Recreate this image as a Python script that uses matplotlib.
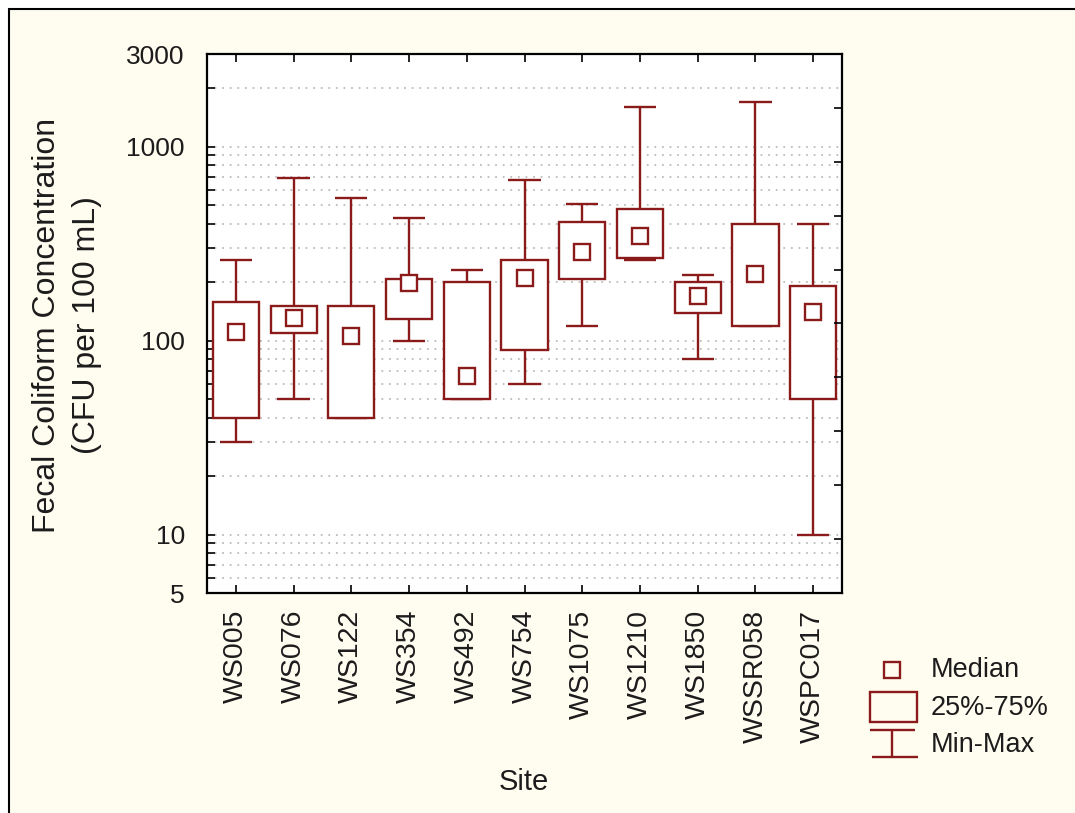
import matplotlib
matplotlib.use("Agg")
from matplotlib import pyplot as plt
from matplotlib.patches import Rectangle
from matplotlib.ticker import FixedLocator, NullFormatter
import numpy as np

# fecal coliform summary per sampling site (CFU per 100 mL)
sites = ['WS005', 'WS076', 'WS122', 'WS354', 'WS492', 'WS754',
         'WS1075', 'WS1210', 'WS1850', 'WSSR058', 'WSPC017']
mins = [30, 50, 40, 99, 50, 60, 119, 261, 80, 119, 10]
q1 = [40, 110, 40, 129, 50, 89, 207, 265, 139, 119, 50]
medians = [111, 131, 106, 197, 66, 209, 286, 345, 170, 220, 141]
q3 = [158, 151, 150, 207, 200, 261, 407, 477, 200, 398, 190]
maxs = [261, 691, 545, 430, 230, 670, 506, 1594, 217, 1690, 400]

y_ticks = [5, 6, 7, 8, 9, 10, 20, 30, 40, 50, 60, 70, 80, 90, 100,
           200, 300, 400, 500, 600, 700, 800, 900, 1000, 2000, 3000]
y_labeled = [5, 10, 100, 1000, 3000]

red = '#8b1a1a'
cream = '#fffcf0'
ink = '#1c1c1c'
font = 'Liberation Sans'
lw = 1.7

W, H = 1075, 813
fig = plt.figure(figsize=(W / 100, H / 100), dpi=100)
fig.patch.set_facecolor('white')

# cream panel with a dark frame on the top and left
frame = Rectangle((9 / W, -0.1), 1.2, 1.1 - 9 / H, transform=fig.transFigure,
                  facecolor=cream, edgecolor='black', linewidth=1.5, zorder=-10)
fig.patches.append(frame)

ax = fig.add_axes([207 / W, 1 - 593 / H, 635 / W, 539 / H])
ax.set_facecolor('white')
ax.set_yscale('log')
ax.set_ylim(5, 3000)
ax.set_xlim(0.5, len(sites) + 0.5)

x = np.arange(1, len(sites) + 1)
box_w = 0.8
cap_w = 0.56

ax.vlines(x, q3, maxs, color=red, lw=lw, zorder=2)
ax.vlines(x, mins, q1, color=red, lw=lw, zorder=2)
ax.hlines(maxs, x - cap_w / 2, x + cap_w / 2, color=red, lw=lw, zorder=2)
ax.hlines(mins, x - cap_w / 2, x + cap_w / 2, color=red, lw=lw, zorder=2)
ax.bar(x, np.array(q3) - np.array(q1), bottom=q1, width=box_w,
       facecolor='white', edgecolor=red, linewidth=lw, zorder=3)
ax.plot(x, medians, ls='none', marker='s', ms=11, mfc='white', mec=red,
        mew=lw, zorder=4)

# y axis: log ticks, labels only at a few values
ax.yaxis.set_major_locator(FixedLocator(y_ticks))
ax.yaxis.set_minor_locator(FixedLocator([]))
ax.set_yticklabels([str(v) if v in y_labeled else '' for v in y_ticks])
ax.grid(axis='y', which='major', color='#bcbcbc', lw=1.3, ls=(0, (1, 3.2)))
ax.set_axisbelow(True)

ax.set_xticks(x)
ax.set_xticklabels(sites, rotation=90, va='top')
ax.tick_params(axis='both', direction='in', length=6, width=1.2, color='black',
               top=True, right=False)
ax.tick_params(axis='y', pad=16, labelsize=19, labelcolor=ink)
ax.tick_params(axis='x', pad=12, labelsize=20.5, labelcolor=ink)
for lab in ax.get_xticklabels() + ax.get_yticklabels():
    lab.set_family(font)
for sp in ax.spines.values():
    sp.set_linewidth(1.6)
    sp.set_color('black')

# right-hand axis with evenly spaced ticks
ax2 = ax.twinx()
ax2.set_ylim(0, 10)
ax2.set_yticks(range(1, 10))
ax2.yaxis.set_major_formatter(NullFormatter())
ax2.tick_params(axis='y', direction='in', length=6, width=1.2)
for sp in ax2.spines.values():
    sp.set_visible(False)

fig.text(67 / W, 1 - 325 / H, 'Fecal Coliform Concentration\n(CFU per 100 mL)',
         rotation=90, ha='center', va='center', fontsize=23, family=font,
         color=ink, linespacing=1.45)
fig.text(524 / W, 1 - 782 / H, 'Site', ha='center', va='center',
         fontsize=21, family=font, color=ink)

# legend drawn in pixel space
lg = fig.add_axes([0, 0, 1, 1])
lg.set_xlim(0, W)
lg.set_ylim(H, 0)
lg.axis('off')
lg.plot([892], [670], marker='s', ms=11, mfc='none', mec=red, mew=lw)
lg.add_patch(Rectangle((870, 692), 47, 30, facecolor='none', edgecolor=red, lw=lw))
lg.hlines([730, 757], [870, 872], [915, 918], color=red, lw=lw)
lg.vlines([892], [730], [757], color=red, lw=lw)
for yy, txt in zip([670, 708, 745], ['Median', '25%-75%', 'Min-Max']):
    lg.text(931, yy, txt, ha='left', va='center', fontsize=19.5, family=font,
            color=ink)

fig.savefig('out.png', dpi=100, facecolor=fig.get_facecolor())
